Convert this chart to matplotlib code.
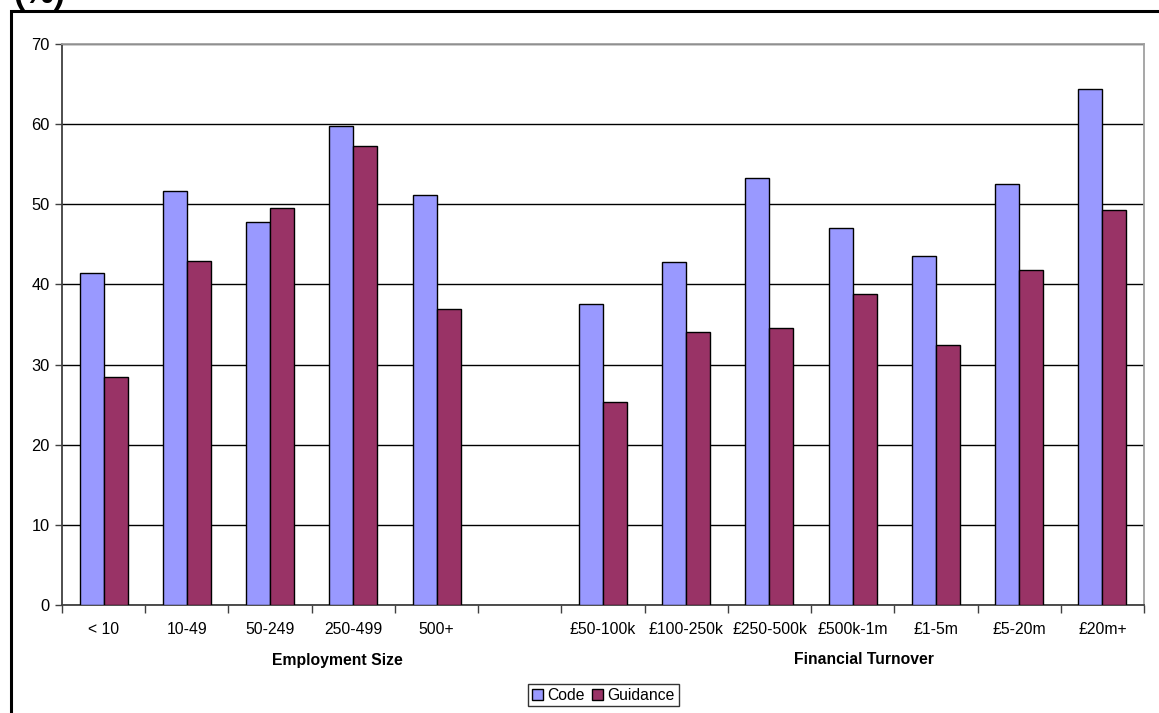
import matplotlib
matplotlib.use("Agg")
import matplotlib.pyplot as plt
from matplotlib.patches import Rectangle
import numpy as np

plt.rcParams['font.family'] = ['Liberation Sans', 'DejaVu Sans']

# Category labels (blank slot separates the two groupings)
categories = ["< 10", "10-49", "50-249", "250-499", "500+", "",
              "£50-100k", "£100-250k", "£250-500k", "£500k-1m",
              "£1-5m", "£5-20m", "£20m+"]
code_values = [41.4, 51.7, 47.8, 59.8, 51.2, np.nan,
               37.6, 42.8, 53.3, 47.0, 43.5, 52.5, 64.4]
guidance_values = [28.5, 42.9, 49.5, 57.3, 36.9, np.nan,
                   25.3, 34.1, 34.6, 38.8, 32.4, 41.8, 49.3]
group_titles = ["Employment Size", "Financial Turnover"]
y_ticks = [0, 10, 20, 30, 40, 50, 60, 70]

W, H = 1159, 713
fig = plt.figure(figsize=(W / 100, H / 100), dpi=100)
fig.patch.set_facecolor("white")

ax = fig.add_axes([62 / W, (H - 605) / H, (1144 - 62) / W, (605 - 44) / H])

x = np.arange(len(categories))
bw = 0.288
ax.bar(x - bw / 2, code_values, width=bw, color="#9999FF",
       edgecolor="black", linewidth=1.0, label="Code", zorder=3)
ax.bar(x + bw / 2, guidance_values, width=bw, color="#993366",
       edgecolor="black", linewidth=1.0, label="Guidance", zorder=3)

ax.set_xlim(-0.5, len(categories) - 0.5)
ax.set_ylim(0, 70)
ax.set_yticks(y_ticks)
ax.yaxis.grid(True, color="black", linewidth=1.0, zorder=0)
ax.set_axisbelow(True)

# Category labels between boundary tick marks
ax.set_xticks(x)
ax.set_xticklabels(categories, fontsize=11.3)
ax.tick_params(axis="x", which="major", length=0, pad=12)
ax.set_xticks(np.arange(-0.5, len(categories)), minor=True)
ax.tick_params(axis="x", which="minor", length=6, width=1, color="#404040",
               direction="out")
ax.tick_params(axis="y", length=5, width=1, color="#404040", labelsize=11.8,
               pad=4)

for side in ("left", "bottom"):
    ax.spines[side].set_color("#404040")
    ax.spines[side].set_linewidth(1.3)
for side in ("top", "right"):
    ax.spines[side].set_color("#a0a0a0")
    ax.spines[side].set_linewidth(1.3)

# Group titles beneath the category labels
fig.text(337 / W, (H - 660) / H, group_titles[0], ha="center", va="center",
         fontsize=11.3, fontweight="bold")
fig.text(864 / W, (H - 660) / H, group_titles[1], ha="center", va="center",
         fontsize=11.3, fontweight="bold")

# Legend
leg = fig.legend(loc="center", bbox_to_anchor=(603.5 / W, (H - 695) / H),
                 ncol=2, fontsize=11.3, frameon=True, fancybox=False,
                 edgecolor="black", handlelength=0.7, handleheight=0.7,
                 handletextpad=0.25, columnspacing=0.5, borderpad=0.25,
                 borderaxespad=0)
leg.get_frame().set_linewidth(1.0)

# Outer chart border and unit label
fig.add_artist(Rectangle((11 / W, -0.2), 1.2, (H - 11) / H + 0.2,
                         transform=fig.transFigure, fill=False,
                         edgecolor="black", linewidth=2.2))
fig.text(13 / W, (H - 3) / H, "(%)", ha="left", va="baseline",
         fontsize=24, fontweight="bold")

fig.savefig("out.png", dpi=100, facecolor="white")
